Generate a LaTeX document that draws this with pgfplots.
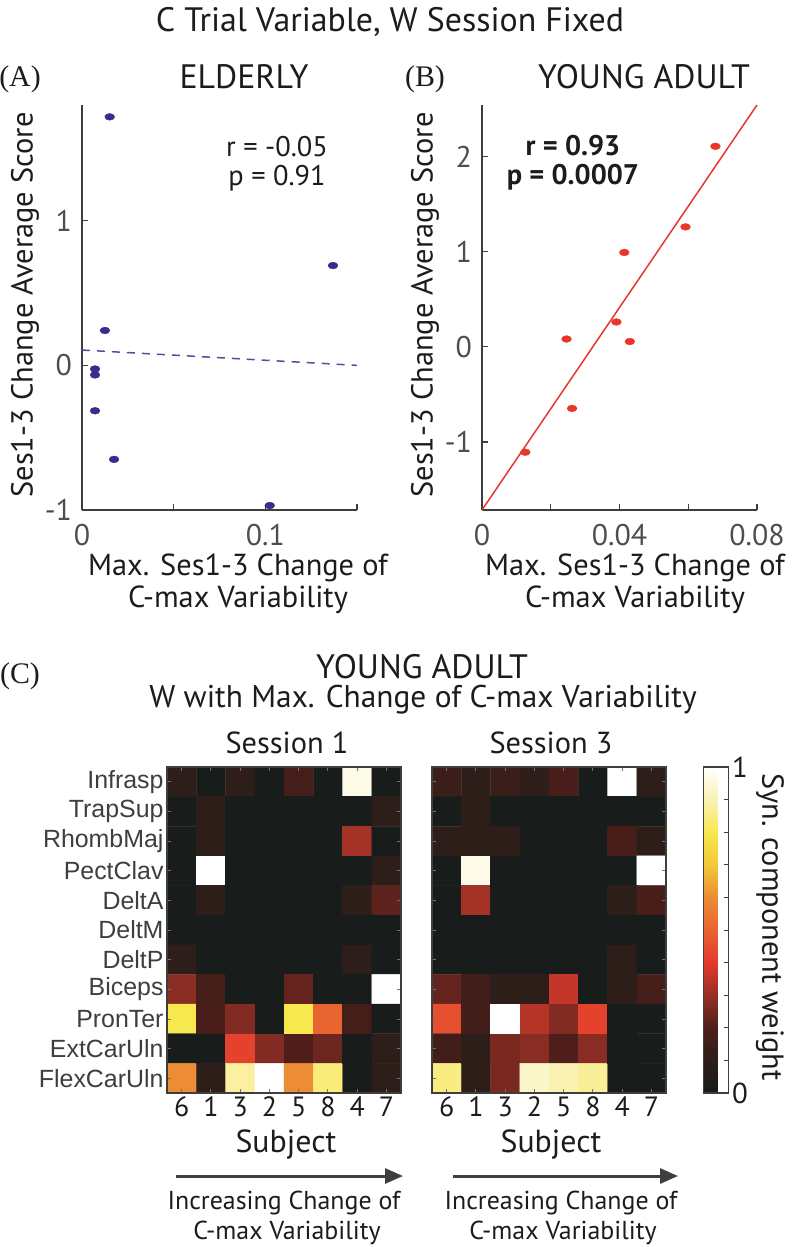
\documentclass[border=0pt]{standalone}
\usepackage{pgfplots}
\pgfplotsset{compat=1.18}
\usepackage{fontspec}
\setmainfont{PT Sans}
\newfontfamily\seriffont{Liberation Serif}
\newfontfamily\arialfont{Liberation Sans}
\usetikzlibrary{arrows.meta}
\definecolor{dotblue}{RGB}{60,42,140}
\definecolor{dotred}{RGB}{232,54,42}
\definecolor{axgray}{RGB}{62,62,62}
\definecolor{tickgray}{RGB}{78,78,78}
\definecolor{txt}{RGB}{28,28,28}
\pgfplotsset{
  colormap={hotish}{rgb255(0cm)=(24,28,26); rgb255(1cm)=(45,30,26); rgb255(2cm)=(80,30,26);
    rgb255(3cm)=(150,48,38); rgb255(4cm)=(228,58,44); rgb255(5cm)=(232,100,48);
    rgb255(6cm)=(236,140,52); rgb255(7cm)=(242,200,56); rgb255(8cm)=(248,232,80);
    rgb255(9cm)=(250,242,180); rgb255(10cm)=(255,255,255)},
  scatterax/.style={scale only axis, width=275bp, height=405bp, anchor=south west,
    axis lines*=left, axis line style={axgray, line width=1.5bp},
    scaled ticks=false,
    tick align=inside, major tick length=6bp, tick style={axgray, line width=1.2bp},
    ticklabel style={font=\fontsize{30}{33}\selectfont, text=tickgray, inner sep=0pt},
    xticklabel style={yshift=-14bp}, yticklabel style={xshift=-10bp}, clip=false},
  heatax/.style={scale only axis, width=234bp, height=326bp, anchor=north west,
    xmin=-0.5, xmax=7.5, ymin=-0.5, ymax=10.5, y dir=reverse, enlargelimits=false,
    axis on top, point meta min=0, point meta max=1, colormap name=hotish,
    xtick={0,...,7}, xticklabels={6,1,3,2,5,8,4,7}, ytick={0,...,10},
    tick align=inside, major tick length=4bp, tick style={black!55, line width=0.8bp},
    axis line style={axgray, line width=1.5bp},
    xticklabel style={font=\fontsize{28}{30}\selectfont, text=txt}},
}
\newcommand{\fa}{\fontsize{30.5}{34}\selectfont}
\newcommand{\fb}{\fontsize{34}{38}\selectfont}
\newcommand{\fr}{\fontsize{28.5}{30}\selectfont}
\begin{document}
\begin{tikzpicture}
\path[use as bounding box] (0bp,0bp) rectangle (795bp,-1247bp);

% ---------- Panel A ----------
\begin{axis}[scatterax, at={(82bp,-510bp)},
  xmin=0, xmax=0.15, ymin=-1, ymax=1.8,
  xtick={0,0.05,0.1,0.15}, xticklabels={0,,0.1,},
  ytick={-1,0,1}, yticklabels={-1,0,1}]
\addplot[only marks, mark=*, mark size=3.4bp, color=dotblue, mark options={xscale=1.45}]
  coordinates {(0.0151,1.718) (0.1369,0.690) (0.0125,0.241) (0.0071,-0.025)
               (0.0071,-0.066) (0.0071,-0.314) (0.0175,-0.650) (0.1024,-0.969)};
\addplot[dashed, dash pattern=on 8bp off 7bp, line width=1.5bp, color=dotblue!85]
  coordinates {(0,0.106) (0.15,0.0)};
\end{axis}

% ---------- Panel B ----------
\begin{axis}[scatterax, at={(482bp,-510bp)},
  xmin=0, xmax=0.08, ymin=-1.714, ymax=2.54,
  xtick={0,0.02,0.04,0.06,0.08}, xticklabels={0,,0.04,,0.08},
  ytick={-1,0,1,2}, yticklabels={-1,0,1,2}]
\addplot[line width=1.5bp, color=dotred] coordinates {(0,-1.714) (0.08,2.54)};
\addplot[only marks, mark=*, mark size=3.4bp, color=dotred, mark options={xscale=1.45}]
  coordinates {(0.0679,2.106) (0.0592,1.260) (0.0414,0.991) (0.0391,0.261)
               (0.0246,0.082) (0.0430,0.056) (0.0262,-0.647) (0.0126,-1.107)};
\end{axis}

% ---------- Heatmap Session 1 ----------
\begin{axis}[heatax, at={(167bp,-767bp)},
  yticklabels={Infrasp,TrapSup,RhombMaj,PectClav,DeltA,DeltM,DeltP,Biceps,PronTer,ExtCarUln,FlexCarUln},
  yticklabel style={font={\arialfont\fontsize{25}{28}\selectfont}, text=axgray}]
\addplot[matrix plot*, mesh/cols=8, mesh/rows=11, point meta=explicit]
 table[meta=c, row sep=\\]{
x y c\\
0 0 0.10\\ 1 0 0\\ 2 0 0.10\\ 3 0 0\\ 4 0 0.17\\ 5 0 0\\ 6 0 0.97\\ 7 0 0\\
0 1 0\\ 1 1 0.10\\ 2 1 0\\ 3 1 0\\ 4 1 0\\ 5 1 0\\ 6 1 0\\ 7 1 0.10\\
0 2 0\\ 1 2 0.10\\ 2 2 0\\ 3 2 0\\ 4 2 0\\ 5 2 0\\ 6 2 0.32\\ 7 2 0\\
0 3 0\\ 1 3 1.00\\ 2 3 0\\ 3 3 0\\ 4 3 0\\ 5 3 0\\ 6 3 0\\ 7 3 0.10\\
0 4 0\\ 1 4 0.10\\ 2 4 0\\ 3 4 0\\ 4 4 0\\ 5 4 0\\ 6 4 0.10\\ 7 4 0.22\\
0 5 0\\ 1 5 0\\ 2 5 0\\ 3 5 0\\ 4 5 0\\ 5 5 0\\ 6 5 0\\ 7 5 0\\
0 6 0.10\\ 1 6 0\\ 2 6 0\\ 3 6 0\\ 4 6 0\\ 5 6 0\\ 6 6 0.10\\ 7 6 0\\
0 7 0.28\\ 1 7 0.17\\ 2 7 0\\ 3 7 0\\ 4 7 0.23\\ 5 7 0\\ 6 7 0\\ 7 7 1.00\\
0 8 0.80\\ 1 8 0.18\\ 2 8 0.27\\ 3 8 0\\ 4 8 0.80\\ 5 8 0.50\\ 6 8 0.17\\ 7 8 0\\
0 9 0\\ 1 9 0\\ 2 9 0.42\\ 3 9 0.27\\ 4 9 0.20\\ 5 9 0.24\\ 6 9 0\\ 7 9 0.10\\
0 10 0.60\\ 1 10 0.10\\ 2 10 0.88\\ 3 10 1.00\\ 4 10 0.60\\ 5 10 0.84\\ 6 10 0\\ 7 10 0.10\\
};
\end{axis}

% ---------- Heatmap Session 3 ----------
\begin{axis}[heatax, at={(432bp,-767bp)}, yticklabels={},
  colorbar,
  colorbar style={at={(parent axis.north east)}, anchor=north west, xshift=29bp,
    width=25bp, ytick={0,1}, yticklabels={0,1},
    minor ytick={0.1,0.2,0.3,0.4,0.5,0.6,0.7,0.8,0.9},
    ytick pos=right, tick align=inside, major tick length=5bp, minor tick length=5bp,
    tick style={axgray, line width=1bp}, axis line style={axgray, line width=1.5bp},
    yticklabel style={font=\fontsize{29}{32}\selectfont, text=txt}}]
\addplot[matrix plot*, mesh/cols=8, mesh/rows=11, point meta=explicit]
 table[meta=c, row sep=\\]{
x y c\\
0 0 0.14\\ 1 0 0.10\\ 2 0 0.14\\ 3 0 0.10\\ 4 0 0.18\\ 5 0 0\\ 6 0 1.00\\ 7 0 0.10\\
0 1 0\\ 1 1 0.10\\ 2 1 0\\ 3 1 0\\ 4 1 0\\ 5 1 0\\ 6 1 0\\ 7 1 0\\
0 2 0.10\\ 1 2 0.10\\ 2 2 0.10\\ 3 2 0\\ 4 2 0\\ 5 2 0\\ 6 2 0.18\\ 7 2 0.10\\
0 3 0\\ 1 3 0.97\\ 2 3 0\\ 3 3 0\\ 4 3 0\\ 5 3 0\\ 6 3 0\\ 7 3 1.00\\
0 4 0\\ 1 4 0.32\\ 2 4 0\\ 3 4 0\\ 4 4 0\\ 5 4 0\\ 6 4 0.10\\ 7 4 0.18\\
0 5 0\\ 1 5 0\\ 2 5 0\\ 3 5 0\\ 4 5 0\\ 5 5 0\\ 6 5 0\\ 7 5 0\\
0 6 0\\ 1 6 0\\ 2 6 0\\ 3 6 0\\ 4 6 0\\ 5 6 0\\ 6 6 0.10\\ 7 6 0\\
0 7 0.23\\ 1 7 0.16\\ 2 7 0.10\\ 3 7 0.10\\ 4 7 0.36\\ 5 7 0\\ 6 7 0.10\\ 7 7 0.17\\
0 8 0.45\\ 1 8 0.16\\ 2 8 1.00\\ 3 8 0.34\\ 4 8 0.27\\ 5 8 0.42\\ 6 8 0\\ 7 8 0\\
0 9 0.16\\ 1 9 0.10\\ 2 9 0.26\\ 3 9 0.28\\ 4 9 0.20\\ 5 9 0.28\\ 6 9 0\\ 7 9 0\\
0 10 0.85\\ 1 10 0.10\\ 2 10 0.26\\ 3 10 0.93\\ 4 10 0.90\\ 5 10 0.87\\ 6 10 0\\ 7 10 0\\
};
\end{axis}

% ---------- Texts ----------
\begin{scope}[every node/.style={text=txt, inner sep=0pt}]
\node[font=\fb] at (390bp,-22bp) {C Trial Variable, W Session Fixed};
\node[font={\seriffont\fontsize{30}{34}\selectfont}] at (20bp,-79bp) {(A)};
\node[font={\seriffont\fontsize{30}{34}\selectfont}] at (425bp,-79bp) {(B)};
\node[font=\fb] at (244bp,-77bp) {ELDERLY};
\node[font=\fb] at (644bp,-77bp) {YOUNG ADULT};
\node[font=\fa, rotate=90] at (25bp,-305bp) {Ses1-3 Change Average Score};
\node[font=\fa, rotate=90] at (425bp,-305bp) {Ses1-3 Change Average Score};
\node[font=\fa] at (238bp,-568bp) {Max. Ses1-3 Change of};
\node[font=\fa] at (238bp,-600bp) {C-max Variability};
\node[font=\fa] at (635bp,-568bp) {Max. Ses1-3 Change of};
\node[font=\fa] at (635bp,-600bp) {C-max Variability};
\node[font=\fr, anchor=base] at (277bp,-156bp) {r = -0.05};
\node[font=\fr, anchor=base] at (277bp,-185bp) {p = 0.91};
\node[font=\fr\bfseries, anchor=base] at (573bp,-155bp) {r = 0.93};
\node[font=\fr\bfseries, anchor=base] at (573bp,-184bp) {p = 0.0007};
\node[font={\seriffont\fontsize{30}{34}\selectfont}] at (20bp,-676bp) {(C)};
\node[font=\fb] at (422bp,-667bp) {YOUNG ADULT};
\node[font=\fontsize{31.5}{35}\selectfont] at (423bp,-700bp) {W with Max. Change of C-max Variability};
\node[font=\fa] at (287bp,-743bp) {Session 1};
\node[font=\fa] at (551bp,-743bp) {Session 3};
\node[font=\fa, rotate=-90] at (770bp,-927bp) {Syn. component weight};
\node[font=\fontsize{32}{36}\selectfont] at (286bp,-1145bp) {Subject};
\node[font=\fontsize{32}{36}\selectfont] at (551bp,-1145bp) {Subject};
\node[font=\fontsize{26}{30}\selectfont] at (284bp,-1203bp) {Increasing Change of};
\node[font=\fontsize{26}{30}\selectfont] at (287bp,-1233bp) {C-max Variability};
\node[font=\fontsize{26}{30}\selectfont] at (561bp,-1203bp) {Increasing Change of};
\node[font=\fontsize{26}{30}\selectfont] at (563bp,-1233bp) {C-max Variability};
\end{scope}
\draw[line width=3bp, color=axgray, -{Triangle[length=18bp,width=15bp]}] (176bp,-1176bp) -- (403bp,-1176bp);
\draw[line width=3bp, color=axgray, -{Triangle[length=18bp,width=15bp]}] (453bp,-1176bp) -- (678bp,-1176bp);
\end{tikzpicture}
\end{document}
